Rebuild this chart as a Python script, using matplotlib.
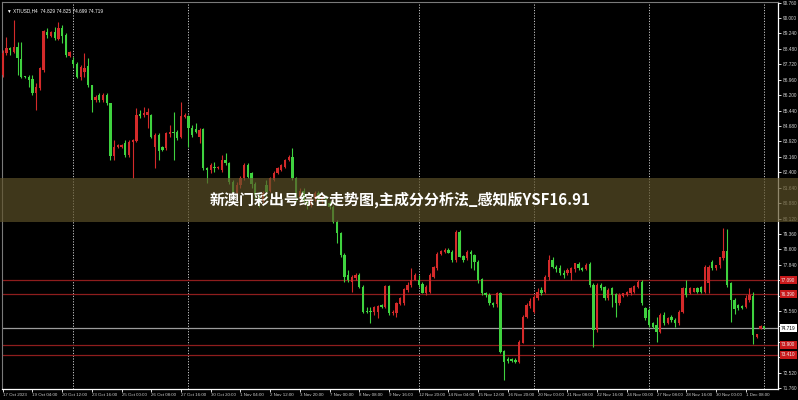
#Oil H4 candle chart with banner overlay

#Importing
import matplotlib
matplotlib.use('Agg')
import matplotlib.pyplot as plt
import matplotlib.transforms as mtransforms
from matplotlib.patches import Rectangle

plt.rcParams['font.family'] = ['Noto Sans CJK SC', 'DejaVu Sans']

#Candle data (H4 bars, left to right)
opens = [87.19, 88.26, 88.51, 88.34, 88.59, 87.97, 87.14, 87.11, 86.98, 86.29,
         86.54, 87.44, 89.33, 89.12, 89.33, 88.95, 89.53, 89.16, 88.13, 87.93,
         87.74, 87.11, 87.36, 87.65, 86.70, 85.96, 86.21, 85.96, 86.21, 85.80,
         83.20, 83.63, 83.66, 83.82, 83.25, 83.91, 83.96, 85.25, 85.22, 85.22,
         85.22, 83.66, 84.24, 83.66, 83.58, 84.29, 84.40, 84.40, 84.12, 85.14,
         85.17, 84.56, 84.52, 84.15, 84.52, 82.59, 82.51, 82.68, 82.59, 82.51,
         83.00, 82.84, 81.93, 81.40, 81.75, 82.10, 82.76, 82.35, 81.80, 81.30,
         81.00, 81.75, 81.50, 82.02, 82.35, 82.51, 82.68, 83.00, 83.17, 82.10,
         81.20, 81.50, 81.00, 80.80, 81.10, 81.40, 81.00, 81.20, 80.90, 80.71,
         79.97, 79.39, 78.32, 77.34, 77.01, 77.17, 77.34, 76.76, 75.56, 75.53,
         75.53, 75.53, 75.86, 75.78, 76.79, 75.45, 75.48, 75.91, 75.94, 76.60,
         76.84, 77.09, 77.09, 76.89, 76.43, 76.52, 77.26, 77.67, 78.37, 78.49,
         78.57, 78.49, 78.08, 79.47, 78.27, 78.16, 78.49, 78.32, 77.99, 77.12,
         76.43, 76.35, 75.94, 75.91, 76.43, 73.61, 73.20, 73.18, 73.15, 73.07,
         74.00, 75.25, 75.81, 75.53, 76.19, 76.60, 76.52, 77.22, 78.08, 77.72,
         77.67, 77.42, 77.42, 77.42, 77.62, 77.88, 77.67, 77.62, 77.88, 76.84,
         74.63, 76.84, 76.73, 76.19, 76.68, 76.40, 75.97, 76.30, 76.35, 76.43,
         76.52, 76.76, 77.01, 75.69, 75.61, 74.95, 74.87, 74.54, 75.37, 74.95,
         75.28, 75.12, 74.95, 75.53, 76.68, 76.43, 76.52, 76.68, 76.73, 76.51,
         76.92, 77.99, 77.66, 77.83, 78.16, 78.53, 76.92, 76.13, 75.85, 75.81,
         75.77, 76.10, 76.30, 74.29, 74.70, 74.83]
highs = [88.43, 89.08, 88.59, 89.90, 88.84, 88.84, 87.16, 87.19, 87.19, 86.78,
         87.60, 89.41, 89.49, 89.36, 89.58, 89.82, 89.66, 89.25, 88.40, 88.10,
         87.85, 87.69, 88.26, 88.02, 86.70, 86.21, 86.29, 86.29, 86.29, 85.80,
         83.99, 83.80, 83.78, 83.99, 83.99, 84.02, 85.55, 85.47, 85.63, 85.55,
         85.25, 84.32, 84.32, 83.70, 84.40, 84.73, 85.39, 84.48, 85.88, 85.30,
         85.22, 84.73, 84.81, 84.56, 84.56, 82.68, 82.84, 82.92, 82.72, 83.25,
         83.37, 82.92, 82.00, 81.90, 82.20, 82.84, 82.84, 82.40, 81.90, 81.40,
         81.50, 82.02, 82.15, 82.45, 82.65, 82.80, 83.05, 83.25, 83.58, 82.15,
         81.60, 81.60, 81.10, 81.20, 81.50, 81.50, 81.30, 81.30, 81.00, 80.79,
         80.05, 79.47, 78.41, 77.58, 77.34, 77.42, 77.42, 76.84, 75.78, 75.78,
         75.80, 75.86, 75.90, 76.84, 76.84, 75.61, 76.02, 76.27, 76.68, 77.01,
         77.67, 77.42, 77.34, 77.01, 76.84, 77.42, 77.78, 78.49, 78.57, 78.65,
         78.65, 78.57, 79.56, 79.56, 78.32, 78.57, 78.57, 78.37, 78.08, 77.17,
         76.52, 76.43, 76.02, 76.52, 76.52, 73.64, 73.31, 73.23, 73.23, 74.13,
         75.37, 75.94, 76.19, 76.35, 76.68, 76.76, 77.34, 78.32, 78.24, 77.83,
         77.83, 77.58, 77.67, 77.75, 77.95, 77.99, 77.72, 77.91, 77.99, 76.93,
         76.93, 76.93, 76.79, 76.68, 76.76, 76.47, 76.43, 76.47, 76.55, 76.76,
         76.84, 77.09, 77.09, 75.78, 75.69, 75.04, 75.28, 75.45, 75.53, 75.25,
         75.37, 75.20, 75.61, 76.76, 77.09, 76.73, 76.72, 76.75, 76.80, 77.83,
         77.83, 78.07, 77.83, 78.24, 79.63, 79.59, 77.00, 76.18, 75.90, 75.85,
         76.35, 76.68, 76.51, 74.45, 74.86, 74.83]
lows = [87.11, 88.18, 88.18, 88.26, 87.19, 87.03, 87.06, 86.62, 86.21, 85.47,
        86.45, 87.36, 89.00, 89.08, 88.92, 88.92, 88.75, 88.10, 88.10, 87.60,
        87.03, 86.95, 87.11, 86.62, 85.39, 85.88, 85.88, 85.88, 85.71, 83.00,
        83.00, 83.58, 83.62, 83.17, 83.17, 82.10, 83.91, 85.06, 85.14, 84.56,
        84.07, 82.59, 83.00, 83.45, 83.50, 84.15, 83.00, 83.99, 84.07, 85.06,
        83.66, 84.15, 84.32, 83.82, 82.51, 81.85, 82.35, 82.43, 82.55, 82.43,
        82.76, 81.80, 81.20, 81.30, 81.60, 82.02, 82.10, 81.60, 81.10, 80.70,
        80.90, 81.10, 81.45, 81.95, 82.30, 82.45, 82.60, 82.95, 82.02, 81.00,
        81.10, 80.90, 80.60, 80.70, 81.00, 80.90, 80.90, 80.80, 80.60, 79.88,
        78.90, 78.24, 77.01, 77.01, 76.52, 77.09, 76.68, 75.45, 75.45, 74.95,
        75.37, 75.20, 75.70, 75.69, 75.37, 75.37, 75.28, 75.86, 75.86, 76.52,
        76.76, 77.09, 76.76, 76.43, 76.35, 76.43, 77.17, 77.58, 78.32, 78.44,
        78.41, 77.99, 77.99, 78.21, 77.99, 78.08, 77.67, 77.58, 76.93, 76.35,
        76.27, 75.86, 75.78, 75.78, 73.48, 72.16, 73.02, 73.07, 73.02, 73.02,
        73.97, 75.20, 75.69, 75.45, 76.11, 76.35, 76.43, 77.09, 77.67, 77.50,
        77.34, 77.17, 77.34, 77.09, 77.50, 77.58, 77.55, 77.58, 76.76, 73.81,
        74.54, 76.60, 76.11, 76.11, 75.78, 75.28, 75.86, 76.27, 76.30, 76.35,
        76.47, 76.68, 75.86, 75.12, 74.79, 74.71, 74.05, 74.46, 74.87, 74.90,
        75.04, 74.79, 74.87, 75.45, 76.27, 76.38, 76.48, 76.45, 76.45, 76.43,
        76.43, 77.58, 77.58, 77.66, 78.07, 76.76, 75.03, 75.44, 75.60, 75.65,
        75.69, 76.02, 73.96, 74.25, 74.66, 74.70]
closes = [88.26, 88.51, 88.43, 88.59, 88.02, 87.11, 87.08, 86.95, 86.29, 86.59,
          87.52, 89.36, 89.16, 89.33, 89.00, 89.49, 89.12, 88.18, 88.34, 87.74,
          87.11, 87.60, 87.52, 86.70, 85.96, 86.13, 85.96, 86.21, 85.80, 83.20,
          83.66, 83.74, 83.74, 83.25, 83.91, 83.99, 85.22, 85.19, 85.30, 85.39,
          84.12, 84.24, 83.46, 83.50, 84.32, 84.40, 84.32, 84.07, 85.17, 85.22,
          84.56, 84.24, 84.40, 84.48, 82.59, 82.51, 82.76, 82.59, 82.68, 83.00,
          82.84, 81.93, 81.40, 81.75, 82.10, 82.76, 82.18, 81.80, 81.30, 81.00,
          81.40, 81.45, 82.10, 82.38, 82.59, 82.76, 83.00, 83.17, 82.10, 81.20,
          81.50, 81.00, 80.80, 81.10, 81.40, 81.00, 81.20, 80.90, 80.71, 79.97,
          79.39, 78.32, 77.26, 77.09, 77.26, 77.34, 76.76, 75.53, 75.51, 75.51,
          75.78, 75.81, 75.74, 76.79, 75.45, 75.53, 75.94, 76.19, 76.63, 76.84,
          77.09, 77.34, 76.84, 76.47, 76.76, 77.34, 77.72, 78.37, 78.52, 78.57,
          78.44, 78.08, 79.47, 78.24, 78.08, 78.49, 78.37, 77.99, 77.09, 76.43,
          76.35, 75.94, 75.86, 76.43, 73.56, 73.07, 73.12, 73.12, 73.07, 74.05,
          75.28, 75.86, 76.07, 76.27, 76.52, 76.43, 77.26, 78.08, 77.75, 77.62,
          77.42, 77.34, 77.58, 77.67, 77.91, 77.67, 77.58, 77.83, 76.84, 74.63,
          76.84, 76.68, 76.19, 76.60, 76.35, 75.94, 76.35, 76.43, 76.52, 76.68,
          76.79, 77.01, 75.94, 75.20, 74.87, 74.79, 74.54, 75.37, 74.95, 75.20,
          75.12, 74.95, 75.53, 76.68, 76.35, 76.68, 76.68, 76.52, 76.51, 77.74,
          77.74, 77.66, 77.83, 78.24, 78.53, 76.84, 76.13, 75.64, 75.69, 75.69,
          76.18, 76.35, 74.38, 74.41, 74.82, 74.72]

#Price axis grid values (labels hidden where a price box sits on top)
price_ticks = [90.76, 90.00, 89.24, 88.48, 87.72, 86.96, 86.20, 85.44, 84.68, 83.92,
               83.16, 82.40, 81.64, 80.88, 80.12, 79.36, 78.60, 77.84, 77.08, 76.32,
               75.56, 74.80, 74.04, 73.28, 72.52, 71.76]
hidden_ticks = [77.08, 76.32, 74.80, 74.04, 73.28]

#Time axis labels (one every 8 bars)
time_labels = ['17 Oct 2023', '19 Oct 04:00', '20 Oct 12:00', '23 Oct 16:00', '25 Oct 00:00',
               '26 Oct 08:00', '27 Oct 16:00', '30 Oct 20:00', '1 Nov 04:00', '2 Nov 12:00',
               '3 Nov 20:00', '7 Nov 00:00', '8 Nov 08:00', '9 Nov 16:00', '12 Nov 20:00',
               '14 Nov 04:00', '15 Nov 12:00', '16 Nov 20:00', '20 Nov 00:00', '21 Nov 08:00',
               '22 Nov 16:00', '24 Nov 00:00', '27 Nov 08:00', '28 Nov 16:00', '30 Nov 00:00',
               '1 Dec 08:00']

#Week separators (bar index)
separators = [19, 50, 112, 143, 174, 205]

#Levels: support/resistance lines and current price
red_levels = [77.09, 76.39, 73.90, 73.41]
last_price = 74.719

title = '新澳门彩出号综合走势图,主成分分析法_感知版YSF16.91'
header = '▼ XTIUSD,H4  74.829 74.825 74.699 74.719'

UP = '#d42a2a'
DOWN = '#3fd23f'
SMALL = ['Liberation Sans', 'DejaVu Sans']

fig = plt.figure(figsize=(7.98, 4.0), dpi=100, facecolor='black')
ax = fig.add_axes([2/798, 11/400, 776/798, 387/400], facecolor='black')

#Candles
for i in range(len(opens)):
    o, h, l, c = opens[i], highs[i], lows[i], closes[i]
    col = UP if c >= o else DOWN
    ax.vlines(i, l, h, color=col, lw=0.8, zorder=3)
    body = max(abs(c - o), 0.035)
    ax.bar(i, body, bottom=min(o, c), width=0.62, color=col, lw=0, zorder=4)

#Separators
for s in separators:
    ax.axvline(s, color='#c8c8c8', lw=0.7, ls=(0, (1.2, 1.6)), zorder=1)

#Level lines
for lv in red_levels:
    ax.axhline(lv, color='#8e1d1d', lw=0.9, zorder=2)
ax.axhline(last_price, color='#9c9c9c', lw=0.9, zorder=2)

ax.set_xlim(-0.19, 208.7)
ax.set_ylim(71.72, 90.79)

#Axes look
for side in ['top', 'left']:
    ax.spines[side].set_color('#7a7a7a')
    ax.spines[side].set_linewidth(0.8)
for side in ['right', 'bottom']:
    ax.spines[side].set_color('white')
    ax.spines[side].set_linewidth(0.9)

ax.yaxis.tick_right()
ax.set_yticks(price_ticks)
ax.set_yticklabels(['' if p in hidden_ticks else '%.3f' % p for p in price_ticks],
                   family=SMALL)
ax.tick_params(axis='y', colors='white', labelcolor='#d0d0d0', labelsize=3.4,
               length=2, width=0.6, pad=1.5)

ax.set_xticks(range(0, 8 * len(time_labels), 8))
ax.set_xticklabels(time_labels, ha='left', family=SMALL)
ax.tick_params(axis='x', colors='white', labelcolor='#d0d0d0', labelsize=3.2,
               length=2, width=0.6, pad=1)

#Price boxes on the right axis
trans = mtransforms.blended_transform_factory(ax.transAxes, ax.transData)
for lv in red_levels:
    ax.text(1.004, lv, '%.3f' % lv, transform=trans, fontsize=3.4, color='#f0f0f0',
            va='center', ha='left', family=SMALL,
            bbox=dict(boxstyle='square,pad=0.3', fc='#c8191b', ec='none'), zorder=6)
ax.text(1.004, last_price, '%.3f' % last_price, transform=trans, fontsize=3.4,
        color='black', va='center', ha='left', family=SMALL,
        bbox=dict(boxstyle='square,pad=0.3', fc='white', ec='none'), zorder=6)

#Symbol header
ax.text(0.006, 0.985, header, transform=ax.transAxes, fontsize=3.4, color='white',
        va='top', ha='left', family=['Liberation Sans', 'DejaVu Sans'])

#Banner across the middle
fig.patches.append(Rectangle((0, (400 - 222) / 400), 1, 44 / 400, transform=fig.transFigure,
                             facecolor='#5e5228', alpha=0.68, edgecolor='none', zorder=10))
fig.text(0.501, 0.5, title, ha='center', va='center', color='white', fontsize=10.8,
         fontweight='bold', zorder=11)

plt.savefig('out.png', dpi=100, facecolor='black')
